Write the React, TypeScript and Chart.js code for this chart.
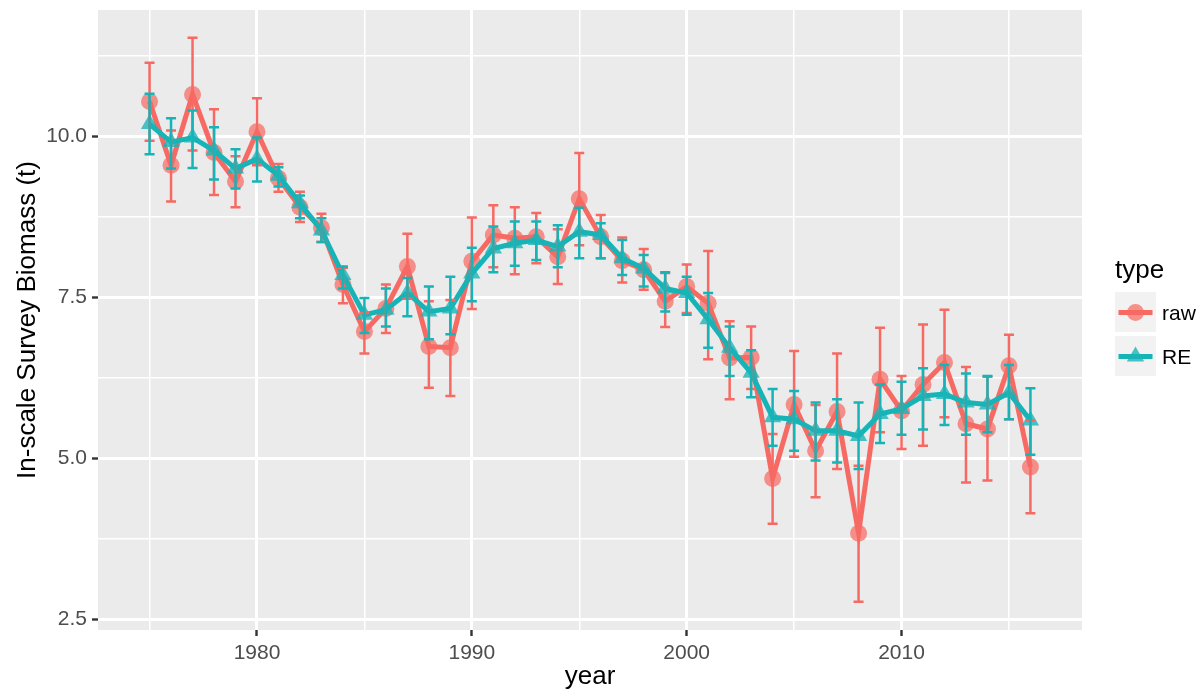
import React, { useEffect, useRef } from 'react';
import { Chart, registerables } from 'chart.js';

Chart.register(...registerables);

const years = [
  1975, 1976, 1977, 1978, 1979, 1980, 1981, 1982, 1983, 1984,
  1985, 1986, 1987, 1988, 1989, 1990, 1991, 1992, 1993, 1994,
  1995, 1996, 1997, 1998, 1999, 2000, 2001, 2002, 2003, 2004,
  2005, 2006, 2007, 2008, 2009, 2010, 2011, 2012, 2013, 2014,
  2015, 2016,
];

const rawValues = [
  10.54, 9.55, 10.65, 9.75, 9.30, 10.07, 9.35, 8.90, 8.58, 7.70,
  6.97, 7.33, 7.98, 6.74, 6.72, 8.06, 8.47, 8.42, 8.44, 8.13,
  9.03, 8.44, 8.07, 7.93, 7.44, 7.67, 7.41, 6.56, 6.57, 4.69,
  5.84, 5.12, 5.73, 3.84, 6.23, 5.74, 6.15, 6.49, 5.54, 5.46,
  6.44, 4.87,
];
const rawLower = [
  9.93, 8.99, 9.78, 9.09, 8.90, 9.55, 9.14, 8.67, 8.36, 7.41,
  6.63, 6.95, 7.48, 6.10, 5.97, 7.32, 7.97, 7.86, 8.03, 7.71,
  8.31, 8.11, 7.73, 7.62, 7.04, 7.26, 6.54, 5.92, 6.08, 3.99,
  5.03, 4.40, 4.84, 2.78, 5.41, 5.15, 5.20, 5.64, 4.63, 4.66,
  5.61, 4.15,
];
const rawUpper = [
  11.14, 10.09, 11.53, 10.42, 9.69, 10.59, 9.57, 9.14, 8.80, 7.96,
  7.26, 7.70, 8.49, 7.44, 7.46, 8.74, 8.93, 8.90, 8.81, 8.56,
  9.74, 8.78, 8.43, 8.25, 7.88, 8.01, 8.22, 7.13, 7.05, 5.38,
  6.67, 5.83, 6.63, 4.89, 7.03, 6.28, 7.08, 7.31, 6.42, 6.27,
  6.92, 5.59,
];

const reValues = [
  10.19, 9.91, 9.98, 9.78, 9.50, 9.65, 9.39, 8.96, 8.54, 7.85,
  7.23, 7.31, 7.57, 7.28, 7.33, 7.87, 8.26, 8.34, 8.39, 8.29,
  8.52, 8.47, 8.11, 7.95, 7.64, 7.57, 7.16, 6.72, 6.33, 5.64,
  5.61, 5.43, 5.43, 5.35, 5.69, 5.77, 5.97, 6.00, 5.87, 5.84,
  6.02, 5.59,
];
const reLower = [
  9.72, 9.50, 9.51, 9.33, 9.19, 9.30, 9.22, 8.73, 8.36, 7.64,
  6.95, 7.05, 7.21, 6.85, 6.93, 7.44, 7.89, 7.99, 8.08, 7.97,
  8.11, 8.11, 7.85, 7.67, 7.28, 7.23, 6.72, 6.28, 5.95, 5.20,
  5.12, 4.97, 4.94, 4.84, 5.24, 5.37, 5.45, 5.52, 5.37, 5.41,
  5.61, 5.06,
];
const reUpper = [
  10.66, 10.28, 10.40, 10.14, 9.80, 9.98, 9.52, 9.08, 8.73, 7.98,
  7.49, 7.64, 7.80, 7.67, 7.82, 8.27, 8.60, 8.68, 8.68, 8.62,
  8.89, 8.65, 8.39, 8.16, 7.89, 7.82, 7.57, 7.05, 6.68, 6.08,
  6.05, 5.87, 5.92, 5.87, 6.15, 6.19, 6.40, 6.45, 6.32, 6.28,
  6.45, 6.09,
];

const xTicks = [1975, 1980, 1985, 1990, 1995, 2000, 2005, 2010, 2015];
const xTickLabels = [1980, 1990, 2000, 2010];
const yTicks = [2.5, 3.75, 5, 6.25, 7.5, 8.75, 10, 11.25];
const yTickLabels = [2.5, 5, 7.5, 10];

const seriesNames = ['raw', 'RE'];
const xTitle = 'year';
const yTitle = 'In-scale Survey Biomass (t)';
const legendTitle = 'type';

const RAW_COLOR = '#F66A63';
const RE_COLOR = '#17B4B7';
const RAW_FILL = 'rgba(246,106,99,0.72)';
const RE_FILL = 'rgba(23,180,183,0.78)';
const FONT = '"Liberation Sans", Arial, Helvetica, sans-serif';

const panelBg = {
  id: 'panelBg',
  beforeDraw(chart: any) {
    const { ctx, chartArea } = chart;
    ctx.save();
    ctx.fillStyle = '#EBEBEB';
    ctx.fillRect(chartArea.left, chartArea.top, chartArea.right - chartArea.left, chartArea.bottom - chartArea.top);
    ctx.restore();
  },
};

const errorBars = {
  id: 'errorBars',
  afterDatasetsDraw(chart: any) {
    const { ctx, chartArea, scales } = chart;
    const x = scales.x;
    const y = scales.y;
    ctx.save();
    ctx.beginPath();
    ctx.rect(chartArea.left, chartArea.top, chartArea.right - chartArea.left, chartArea.bottom - chartArea.top);
    ctx.clip();
    const series = [
      { lo: rawLower, hi: rawUpper, color: RAW_COLOR },
      { lo: reLower, hi: reUpper, color: RE_COLOR },
    ];
    const half = 5;
    series.forEach((s) => {
      ctx.strokeStyle = s.color;
      ctx.lineWidth = 2.5;
      years.forEach((yr, i) => {
        const px = x.getPixelForValue(yr);
        const p1 = y.getPixelForValue(s.lo[i]);
        const p2 = y.getPixelForValue(s.hi[i]);
        ctx.beginPath();
        ctx.moveTo(px, p1);
        ctx.lineTo(px, p2);
        ctx.moveTo(px - half, p1);
        ctx.lineTo(px + half, p1);
        ctx.moveTo(px - half, p2);
        ctx.lineTo(px + half, p2);
        ctx.stroke();
      });
    });
    ctx.restore();
  },
};

const legendPlugin = {
  id: 'ggLegend',
  afterDraw(chart: any) {
    const { ctx, chartArea } = chart;
    const left = chartArea.right + 33;
    ctx.save();
    ctx.fillStyle = '#000000';
    ctx.font = `26px ${FONT}`;
    ctx.textAlign = 'left';
    ctx.textBaseline = 'alphabetic';
    ctx.fillText(legendTitle, left, 278);

    const keys = [
      { top: 292, color: RAW_COLOR, fill: RAW_FILL, shape: 'circle', label: seriesNames[0] },
      { top: 336, color: RE_COLOR, fill: RE_FILL, shape: 'triangle', label: seriesNames[1] },
    ];
    const size = 41;
    keys.forEach((k) => {
      ctx.fillStyle = '#F2F2F2';
      ctx.fillRect(left, k.top, size, size - 1);
      const cy = k.top + size / 2;
      const cx = left + size / 2;
      ctx.strokeStyle = k.color;
      ctx.lineWidth = 5;
      ctx.beginPath();
      ctx.moveTo(left + 3.5, cy);
      ctx.lineTo(left + size - 3.5, cy);
      ctx.stroke();
      ctx.fillStyle = k.fill;
      ctx.beginPath();
      if (k.shape === 'circle') {
        ctx.arc(cx, cy, 8.5, 0, Math.PI * 2);
      } else {
        const r = 10;
        ctx.moveTo(cx, cy - r);
        ctx.lineTo(cx + r * Math.sin((2 * Math.PI) / 3), cy - r * Math.cos((2 * Math.PI) / 3));
        ctx.lineTo(cx + r * Math.sin((4 * Math.PI) / 3), cy - r * Math.cos((4 * Math.PI) / 3));
        ctx.closePath();
      }
      ctx.fill();
      ctx.fillStyle = '#000000';
      ctx.font = `21px ${FONT}`;
      ctx.textBaseline = 'middle';
      ctx.fillText(k.label, left + size + 6, cy + 1.5);
    });
    ctx.restore();
  },
};

const isMajorX = (v: number) => xTickLabels.includes(v);
const isMajorY = (v: number) => yTickLabels.includes(v);

export default function App() {
  const canvasRef = useRef<HTMLCanvasElement | null>(null);

  useEffect(() => {
    const canvas = canvasRef.current;
    if (!canvas) return;
    const chart = new Chart(canvas, {
      type: 'line',
      data: {
        datasets: [
          {
            label: seriesNames[0],
            data: years.map((yr, i) => ({ x: yr, y: rawValues[i] })),
            borderColor: RAW_COLOR,
            backgroundColor: RAW_FILL,
            borderWidth: 5,
            pointStyle: 'circle',
            pointRadius: 8.5,
            pointBorderWidth: 0,
            pointBackgroundColor: RAW_FILL,
            tension: 0,
            fill: false,
            order: 2,
          },
          {
            label: seriesNames[1],
            data: years.map((yr, i) => ({ x: yr, y: reValues[i] })),
            borderColor: RE_COLOR,
            backgroundColor: RE_FILL,
            borderWidth: 5,
            pointStyle: 'triangle',
            pointRadius: 10,
            pointBorderWidth: 0,
            pointBackgroundColor: RE_FILL,
            tension: 0,
            fill: false,
            order: 1,
          },
        ],
      },
      options: {
        responsive: false,
        animation: false,
        events: [],
        devicePixelRatio: 1,
        layout: { padding: { left: 0, right: 122, top: 7, bottom: 0 } },
        plugins: {
          legend: { display: false },
          tooltip: { enabled: false },
        },
        scales: {
          x: {
            type: 'linear',
            min: 1972.6,
            max: 2018.4,
            afterBuildTicks: (s: any) => {
              s.ticks = xTicks.map((v) => ({ value: v }));
            },
            afterFit: (s: any) => {
              s.height = 68;
              s.paddingLeft = 0;
              s.paddingRight = 0;
            },
            ticks: {
              autoSkip: false,
              maxRotation: 0,
              minRotation: 0,
              padding: 5,
              color: '#4D4D4D',
              font: { family: FONT, size: 21 },
              callback: (v: any) => (isMajorX(Number(v)) ? String(v) : ''),
            },
            grid: {
              color: '#FFFFFF',
              lineWidth: (c: any) => (c.tick && isMajorX(c.tick.value) ? 3 : 1.5),
              drawTicks: true,
              tickLength: 6,
              tickWidth: 2.4,
              tickColor: (c: any) => (c.tick && isMajorX(c.tick.value) ? '#333333' : 'rgba(0,0,0,0)'),
            },
            border: { display: false },
            title: {
              display: true,
              text: xTitle,
              color: '#000000',
              font: { family: FONT, size: 26 },
              padding: { top: 0, bottom: 6 },
            },
          },
          y: {
            type: 'linear',
            min: 2.34,
            max: 11.96,
            afterBuildTicks: (s: any) => {
              s.ticks = yTicks.map((v) => ({ value: v }));
            },
            afterFit: (s: any) => {
              s.width = 98;
              s.paddingTop = 0;
              s.paddingBottom = 0;
            },
            ticks: {
              autoSkip: false,
              padding: 5,
              color: '#4D4D4D',
              font: { family: FONT, size: 21 },
              callback: (v: any) => (isMajorY(Number(v)) ? Number(v).toFixed(1) : ''),
            },
            grid: {
              color: '#FFFFFF',
              lineWidth: (c: any) => (c.tick && isMajorY(c.tick.value) ? 3 : 1.5),
              drawTicks: true,
              tickLength: 6,
              tickWidth: 2.4,
              tickColor: (c: any) => (c.tick && isMajorY(c.tick.value) ? '#333333' : 'rgba(0,0,0,0)'),
            },
            border: { display: false },
            title: {
              display: true,
              text: yTitle,
              color: '#000000',
              font: { family: FONT, size: 26 },
              padding: { top: 12, bottom: 0 },
            },
          },
        },
      },
      plugins: [panelBg, errorBars, legendPlugin],
    } as any);
    return () => chart.destroy();
  }, []);

  return (
    <div style={{ position: 'absolute', left: 0, top: 0, width: 1204, height: 698, background: '#FFFFFF' }}>
      <canvas ref={canvasRef} width={1204} height={698} style={{ display: 'block' }} />
    </div>
  );
}
